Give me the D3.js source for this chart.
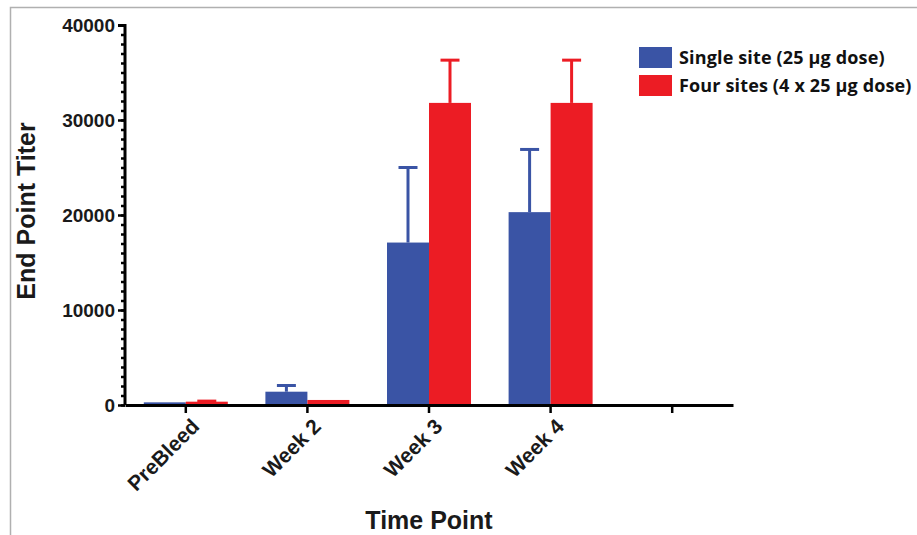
<!DOCTYPE html>
<html>
<head>
<meta charset="utf-8">
<script src="https://cdn.jsdelivr.net/npm/d3@7"></script>
<style>
  body { margin: 0; background: #fff; }
  svg { display: block; }
</style>
</head>
<body>
<svg width="917" height="535"></svg>
<script>
// chart values
const timePoints = ['PreBleed', 'Week 2', 'Week 3', 'Week 4', ''];
const singleSite = [280, 1400, 17100, 20300];
const singleSiteErr = [0, 650, 7900, 6600];
const fourSites = [350, 530, 31800, 31800];
const fourSitesErr = [60, 0, 4500, 4500];
const seriesNames = ['Single site (25 \u00b5g dose)', 'Four sites (4 x 25 \u00b5g dose)'];
const seriesColors = ['#3a54a5', '#ec1c24'];

const svg = d3.select('svg');
const margin = {top: 25, left: 125};
const innerWidth = 608;
const innerHeight = 380;
const axisFont = '"Liberation Sans", Arial, sans-serif';

// frame round the figure
svg.append('path')
    .attr('d', 'M10.5,535 V7.5 H917')
    .attr('fill', 'none')
    .attr('stroke', '#b0b0b0')
    .attr('stroke-width', 1.5);

const g = svg.append('g')
    .attr('transform', `translate(${margin.left},${margin.top})`);

const xScale = d3.scaleBand()
    .domain(timePoints.map((d, i) => i))
    .range([0, innerWidth]);

const yScale = d3.scaleLinear()
    .domain([0, 40000])
    .range([innerHeight, 0]);

const barWidth = 42;

const data = [];
singleSite.forEach((v, i) => data.push({i, s: 0, v, e: singleSiteErr[i]}));
fourSites.forEach((v, i) => data.push({i, s: 1, v, e: fourSitesErr[i]}));

const barX = d => xScale(d.i) + xScale.bandwidth() / 2 + (d.s === 0 ? -barWidth : 0);

// error bars (upper only)
const err = g.selectAll('.err').data(data.filter(d => d.e > 0))
    .enter().append('g')
    .attr('class', 'err')
    .attr('stroke', d => seriesColors[d.s])
    .attr('stroke-width', 3);
err.append('line')
    .attr('x1', d => barX(d) + barWidth / 2)
    .attr('x2', d => barX(d) + barWidth / 2)
    .attr('y1', d => yScale(d.v))
    .attr('y2', d => yScale(d.v + d.e));
err.append('line')
    .attr('x1', d => barX(d) + barWidth / 2 - 9.5)
    .attr('x2', d => barX(d) + barWidth / 2 + 9.5)
    .attr('y1', d => yScale(d.v + d.e))
    .attr('y2', d => yScale(d.v + d.e));

g.selectAll('rect.bar').data(data)
    .enter().append('rect')
    .attr('class', 'bar')
    .attr('x', barX)
    .attr('width', barWidth)
    .attr('y', d => yScale(d.v))
    .attr('height', d => innerHeight - yScale(d.v))
    .attr('fill', d => seriesColors[d.s]);

// y axis: major every 10000, minor every 1000
const yMinor = d3.axisLeft(yScale)
    .tickValues(d3.range(0, 40001, 1000))
    .tickSize(4)
    .tickFormat('');
const yMinorG = g.append('g').call(yMinor);
yMinorG.select('.domain').remove();
yMinorG.selectAll('text').remove();
yMinorG.selectAll('line').attr('stroke', '#000').attr('stroke-width', 2.5);

const yAxis = d3.axisLeft(yScale)
    .tickValues(d3.range(0, 40001, 10000))
    .tickSize(7)
    .tickPadding(3)
    .tickFormat(d3.format('d'));
const yG = g.append('g').call(yAxis);
yG.select('.domain').attr('stroke', '#000').attr('stroke-width', 3).attr('d', `M-7,0.5H0V${innerHeight}`);
yG.selectAll('line').attr('stroke', '#000').attr('stroke-width', 2.5);
yG.selectAll('text')
    .attr('fill', '#1a1a1a')
    .attr('font-size', 19)
    .attr('font-weight', 'bold')
    .attr('font-family', axisFont);

// x axis
const xAxis = d3.axisBottom(xScale)
    .tickSize(8)
    .tickSizeOuter(0)
    .tickFormat(i => timePoints[i]);
const xG = g.append('g')
    .attr('transform', `translate(0,${innerHeight})`)
    .call(xAxis);
xG.select('.domain').attr('stroke', '#000').attr('stroke-width', 3);
xG.selectAll('line').attr('stroke', '#000').attr('stroke-width', 2.5);
xG.selectAll('text').filter(i => timePoints[i] === '').remove();
xG.selectAll('text')
    .attr('fill', '#1a1a1a')
    .attr('font-size', 21)
    .attr('font-weight', 'bold')
    .attr('font-family', axisFont)
    .attr('text-anchor', 'end')
    .attr('dy', null)
    .attr('transform', 'translate(7,15) rotate(-45)');

// axis titles
svg.append('text')
    .attr('x', 429)
    .attr('y', 529)
    .attr('text-anchor', 'middle')
    .attr('font-size', 25)
    .attr('font-weight', 'bold')
    .attr('font-family', axisFont)
    .attr('fill', '#1a1a1a')
    .text('Time Point');

svg.append('text')
    .attr('transform', 'translate(35,211) rotate(-90)')
    .attr('text-anchor', 'middle')
    .attr('font-size', 25)
    .attr('font-weight', 'bold')
    .attr('font-family', axisFont)
    .attr('fill', '#1a1a1a')
    .text('End Point Titer');

// legend
const legend = svg.append('g').attr('transform', 'translate(639,47)');
seriesNames.forEach((name, i) => {
    legend.append('rect')
        .attr('x', 0)
        .attr('y', i * 28)
        .attr('width', 33)
        .attr('height', 21)
        .attr('fill', seriesColors[i]);
    legend.append('text')
        .attr('x', 40)
        .attr('y', i * 28 + 17)
        .attr('font-size', 18)
        .attr('font-weight', 'bold')
        .attr('letter-spacing', 0.15)
        .attr('font-family', '"Open Sans", sans-serif')
        .attr('fill', '#111')
        .text(name);
});
</script>
</body>
</html>
